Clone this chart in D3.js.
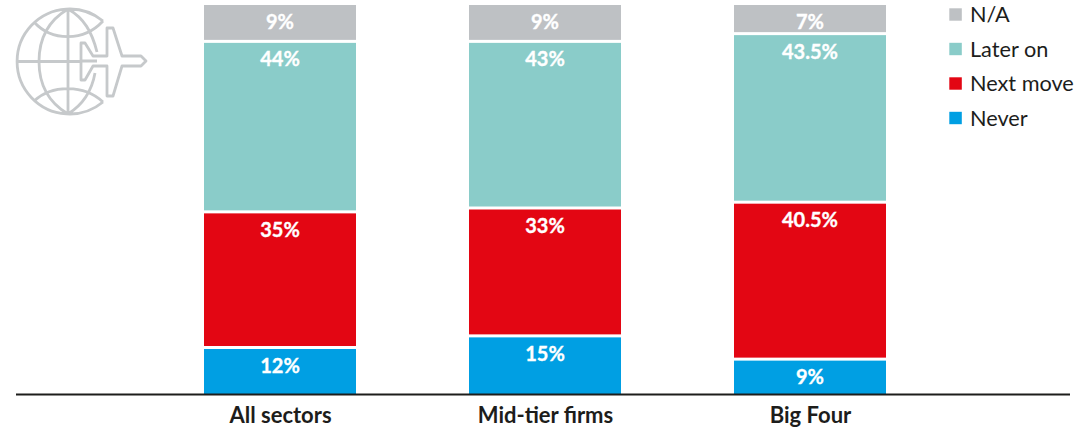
<!DOCTYPE html>
<html><head><meta charset="utf-8">
<style>html,body{margin:0;padding:0;background:#fff}svg{display:block}</style>
<script src="https://cdn.jsdelivr.net/npm/d3@7/dist/d3.min.js"></script>
</head><body><svg id="c" width="1084" height="430"></svg>
<script>
const categories = ["All sectors","Mid-tier firms","Big Four"];
const never = [12,15,9];
const nextMove = [35,33,40.5];
const laterOn = [44,43,43.5];
const na = [9,9,7];
const seriesNames = ["Never","Next move","Later on","N/A"];
const seriesColors = ["#009fe3","#e30613","#8accc9","#bec1c4"];
const legendOrder = ["N/A","Later on","Next move","Never"];

const svg = d3.select("#c");
const font = "Lato, 'Open Sans', sans-serif";
const rows = categories.map((c,i)=>({cat:c,"Never":never[i],"Next move":nextMove[i],"Later on":laterOn[i],"N/A":na[i]}));
const stack = d3.stack().keys(seriesNames)(rows);
const x = d3.scalePoint().domain(categories).range([280,810]);
const y = d3.scaleLinear().domain([0,100]).range([394,6.5]);
const color = d3.scaleOrdinal().domain(seriesNames).range(seriesColors);
const bw = 152;
const gap = 1.5;
const segTop = d => y(d[1]) + (d[1]>=100 ? -gap : gap);
const segBot = d => y(d[0]) - (d[0]<=0 ? 0 : gap);

stack.forEach(s=>{
  const g = svg.append("g");
  g.selectAll("rect").data(s).join("rect")
    .attr("x",d=>x(d.data.cat)-bw/2).attr("width",bw)
    .attr("y",segTop)
    .attr("height",d=>segBot(d)-segTop(d))
    .attr("fill",color(s.key));
  g.selectAll("text").data(s).join("text")
    .attr("x",d=>x(d.data.cat)).attr("y",d=>segTop(d)+23.5)
    .attr("text-anchor","middle").attr("fill","#fff")
    .attr("stroke","#fff").attr("stroke-width",0.35)
    .attr("font-family",font).attr("font-weight",700).attr("font-size",20)
    .text(d=>(d[1]-d[0])+"%");
});

// baseline + category axis
const axis = d3.axisBottom(x).tickSize(0).tickPadding(13);
const ax = svg.append("g").attr("transform","translate(0,394)").call(axis);
ax.select(".domain").remove();
svg.append("line").attr("x1",16).attr("x2",1070).attr("y1",394.5).attr("y2",394.5).attr("stroke","#1d1d1b").attr("stroke-width",2);
ax.selectAll("text").attr("font-family",font).attr("font-weight",700).attr("font-size",22).attr("fill","#1d1d1b");

// legend
const ly = d3.scalePoint().domain(legendOrder).range([14.5,118]);
const leg = svg.append("g").selectAll("g").data(legendOrder).join("g")
  .attr("transform",d=>`translate(949.3,${ly(d)})`);
leg.append("rect").attr("x",0).attr("y",-6.2).attr("width",12.5).attr("height",12.4).attr("fill",d=>color(d));
leg.append("text").attr("x",20.7).attr("y",7.5).attr("font-family",font).attr("font-size",21.7).attr("fill","#1d1d1b").text(d=>d);

// icon
const ic = svg.append("g").attr("fill","none").attr("stroke","#c6c9cb").attr("stroke-width",2.8).attr("stroke-linejoin","round");
ic.append("path").attr("d",
 "M103 21 A52.5 52.5 0 1 0 103 102"+
 "M68 9V114 M16 61.5H80"+
 "M68 9 C46 22 39 42 39 61.5 C39 81 46 101 68 114"+
 "M68 9 C84 18 92 32 97 52 M95 73 C92 90 84 104 68 114"+
 "M34 22 C52 41.7 84 41.7 103 21 M34 101 C52 84.3 84 84.3 103 102");
ic.append("path").attr("d",
 "M81 56 V43 H85 L93 56 H107 V28 H113 L122 56 H141 L146 61 L141 66 H122 L113 96 H107 V66 H93 L85 80 H81 V66 Z M82 61 H97");
</script></body></html>
